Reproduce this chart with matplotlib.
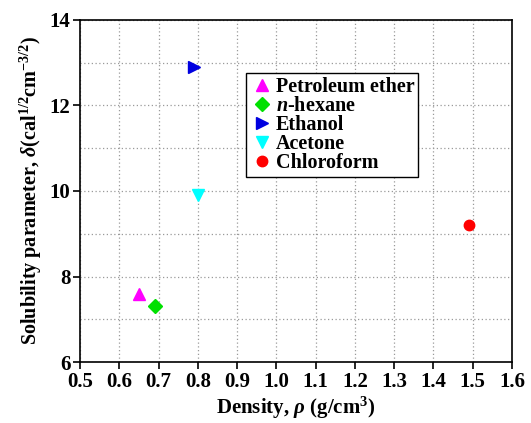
import numpy as np
import matplotlib.pyplot as plt

plt.rcParams['font.family'] = ['Liberation Serif', 'DejaVu Serif']
plt.rcParams['font.weight'] = 'bold'
plt.rcParams['mathtext.fontset'] = 'custom'
plt.rcParams['mathtext.rm'] = 'Liberation Serif:bold'
plt.rcParams['mathtext.it'] = 'Liberation Serif:italic:bold'
plt.rcParams['mathtext.bf'] = 'Liberation Serif:bold'

solvents = ['Petroleum ether', '$n$-hexane', 'Ethanol', 'Acetone', 'Chloroform']
density = [0.65, 0.69, 0.79, 0.80, 1.49]
solubility = [7.6, 7.3, 12.9, 9.9, 9.2]
markers = ['^', 'D', '>', 'v', 'o']
colors = ['#ff00ff', '#00e000', '#0000e0', '#00ffff', '#ff0000']
sizes = [8, 7, 8, 8, 7.5]

fig = plt.figure(figsize=(5.31, 4.23), dpi=100)
ax = fig.add_axes([0.151, 0.144, 0.813, 0.809])

for name, x, y, m, c, s in zip(solvents, density, solubility, markers, colors, sizes):
    ax.plot(x, y, linestyle='none', marker=m, color=c, markersize=s, label=name)

ax.set_xlim(0.5, 1.6)
ax.set_ylim(6, 14)
ax.set_xticks(np.arange(0.5, 1.61, 0.1))
ax.set_xticklabels(['%.1f' % v for v in np.arange(0.5, 1.61, 0.1)])
ax.set_yticks([6, 8, 10, 12, 14])
ax.set_yticks([7, 9, 11, 13], minor=True)
ax.tick_params(which='major', labelsize=15, direction='out', length=5, width=1.2, pad=2)
ax.tick_params(which='minor', length=0)
for lab in ax.get_xticklabels() + ax.get_yticklabels():
    lab.set_fontweight('bold')
ax.grid(True, which='both', linestyle=(0, (1, 2)), color='#9a9a9a', linewidth=0.9)
for sp in ax.spines.values():
    sp.set_linewidth(1.2)

ax.set_xlabel(r'Density, $\rho$ (g/cm$^3$)', fontsize=15, fontweight='bold', labelpad=2)
ax.set_ylabel(r'Solubility parameter, $\delta$(cal$^{1/2}$cm$^{-3/2}$)', fontsize=14.5,
              fontweight='bold', labelpad=4)

leg = ax.legend(loc='upper left', bbox_to_anchor=(0.383, 0.845), fancybox=False,
                edgecolor='black', framealpha=1, handletextpad=0.1, handlelength=1.2,
                borderpad=0.2, labelspacing=-0.05, borderaxespad=0,
                prop={'weight': 'bold', 'size': 14.5})
leg.get_frame().set_linewidth(1.0)

fig.savefig('out.png', dpi=100)
